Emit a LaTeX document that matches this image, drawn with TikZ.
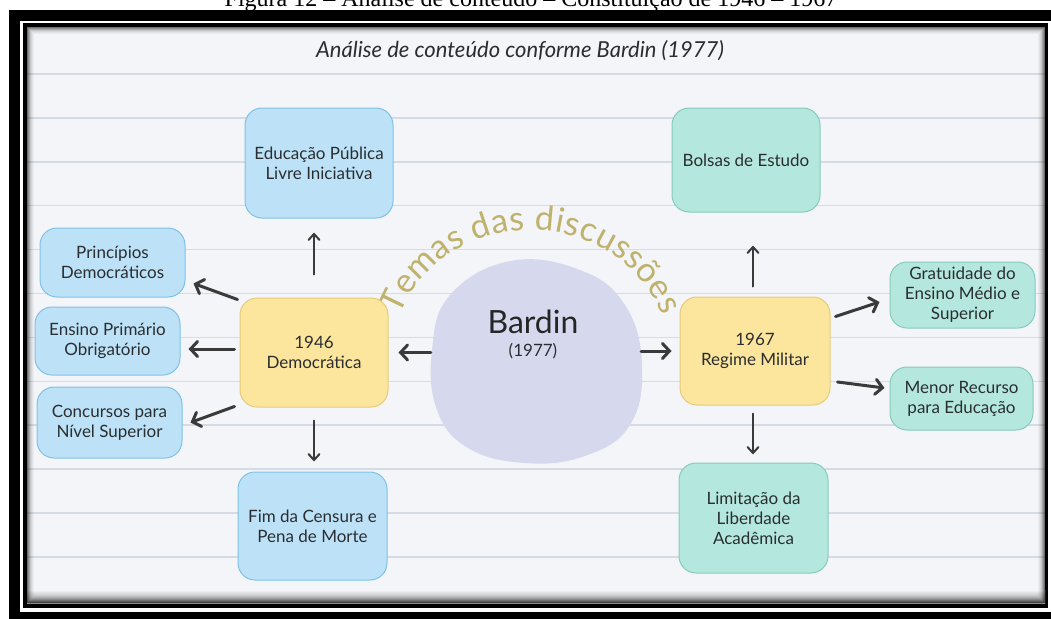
\documentclass[tikz,border=0pt]{standalone}
\usepackage{fontspec}
\setmainfont{Lato}
\newfontfamily\capfont{Liberation Serif}
\usetikzlibrary{arrows.meta,decorations.text}
\definecolor{paperc}{HTML}{F3F5F8}
\definecolor{rulec}{HTML}{D4DBE4}
\definecolor{bluef}{HTML}{BDE2F7}
\definecolor{blued}{HTML}{7FC2E6}
\definecolor{yelf}{HTML}{FCE59C}
\definecolor{yeld}{HTML}{E6CC7A}
\definecolor{mintf}{HTML}{B4E7DD}
\definecolor{mintd}{HTML}{86CBBD}
\definecolor{blobc}{HTML}{D6D9EE}
\definecolor{goldc}{HTML}{BFB26C}
\definecolor{arrowc}{HTML}{3A3A3A}
\definecolor{textc}{HTML}{2A2E31}
\newcommand\arcfnt{\fontsize{34}{34}\selectfont\color{goldc}}
\begin{document}
\begin{tikzpicture}[x=1pt,y=-1pt,
  box/.style={rounded corners=17pt, line width=1pt, align=center, text=textc,
    font=\fontsize{17}{20}\selectfont, inner sep=0pt},
  bluebox/.style={box, fill=bluef, draw=blued},
  yelbox/.style={box, fill=yelf, draw=yeld},
  mintbox/.style={box, fill=mintf, draw=mintd},
  arr/.style={draw=arrowc, line width=3pt, line cap=round,
    -{Straight Barb[length=7pt,width=15pt,line cap=round]}},
  varr/.style={draw=arrowc, line width=2pt, line cap=round,
    -{Straight Barb[length=6pt,width=11pt,line cap=round]}},
  rule/.style={draw=rulec, line width=1.5pt}
]
\useasboundingbox (0,0) rectangle (1051,618);
\fill[white] (0,0) rectangle (1051,618);
\node[font=\capfont\fontsize{24}{26}\selectfont, anchor=base, inner sep=0pt] (caption) at (531,7)
  {Figura 12 – Análise de conteúdo – Constituição de 1946 – 1967};
% frame
\fill[black] (9,10) rectangle (1070,640);
\fill[white] (20,21) rectangle (1051,612);
\fill[black] (23,23) rectangle (1048,608);
\fill[paperc] (27,27) rectangle (1045,603);
% ruled lines
\foreach \k in {0,...,11}
  \draw[rule] (27,{74+43.9*\k}) -- (1045,{74+43.9*\k});
% inner shadow
\shade[top color=paperc, bottom color=black!45] (27,590) rectangle (1045,603);
\foreach \i/\o in {0/0.55,1/0.42,2/0.3,3/0.2,4/0.12,5/0.07,6/0.04}
  \draw[black, opacity=\o, line width=1pt] (27.5+\i,27.5+\i) rectangle (1044.5-\i,602.5-\i);
% title
\node[font=\itshape\fontsize{22}{24}\selectfont, text=textc, anchor=base] (title) at (520,58)
  {Análise de conteúdo conforme Bardin (1977)};
% blob
\fill[blobc] plot[smooth cycle, tension=0.7] coordinates
  {(510,261) (580,270) (625,305) (642,365) (630,425) (585,456) (525,463) (468,448) (437,410) (432,350) (450,295)};
\node[minimum width=210pt, minimum height=200pt, inner sep=0pt] (bardin) at (536,362) {};
\node[font=\fontsize{32}{32}\selectfont, text=black!85] (bardintxt) at (533,322) {Bardin};
\node[font=\fontsize{17}{20}\selectfont, text=textc] (bardinyr) at (533,351) {(1977)};
% arc text
\begin{scope}[shift={(531,360)}, y=1pt]
\path[decorate, decoration={text along path,
   text={|\arcfnt|Temas das discussões}, text align={fit to path}}]
   (160:140pt and 130pt) arc[start angle=160, end angle=20, x radius=140pt, y radius=130pt];
\end{scope}
% boxes
\node[bluebox, minimum width=148pt, minimum height=110pt] (edu) at (319,163) {Educação Pública\\Livre Iniciativa};
\node[bluebox, minimum width=145pt, minimum height=69pt] (princ) at (112.5,262.5) {Princípios\\Democráticos};
\node[bluebox, minimum width=145pt, minimum height=68pt] (ensino) at (107.5,341) {Ensino Primário\\Obrigatório};
\node[bluebox, minimum width=145pt, minimum height=71pt] (conc) at (109.5,422.5) {Concursos para\\Nível Superior};
\node[yelbox, minimum width=148pt, minimum height=109pt] (d46) at (314,352.5) {1946\\Democrática};
\node[bluebox, minimum width=149pt, minimum height=108pt] (fim) at (312.5,526) {Fim da Censura e\\Pena de Morte};
\node[mintbox, minimum width=148pt, minimum height=104pt] (bolsas) at (746,160) {Bolsas de Estudo};
\node[yelbox, minimum width=150pt, minimum height=108pt] (r67) at (755,351) {1967\\Regime Militar};
\node[mintbox, minimum width=145pt, minimum height=66pt] (grat) at (962.5,295) {Gratuidade do\\Ensino Médio e\\Superior};
\node[mintbox, minimum width=143pt, minimum height=63pt] (menor) at (961.5,398.5) {Menor Recurso\\para Educação};
\node[mintbox, minimum width=149pt, minimum height=110pt] (lim) at (753.5,518) {Limitação da\\Liberdade\\Acadêmica};
% arrows
\draw[arr] (bardin.west |- d46.east) -- ([xshift=10pt]d46.east);
\draw[arr] (bardin.east |- r67.west) -- ([xshift=-8pt]r67.west);
\draw[arr] ([shift={(-2,2)}]d46.north west) -- ([shift={(8,-14)}]princ.south east);
\draw[arr] ([shift={(-5,-3.5)}]d46.west) -- ([shift={(8,8)}]ensino.east);
\draw[arr] ([shift={(-5,-1)}]d46.south west) -- ([shift={(8,0)}]conc.east);
\draw[varr, shorten <=23pt, shorten >=14pt] (d46.north) -- (d46.north |- edu.south);
\draw[varr, shorten <=13pt, shorten >=10pt] (d46.south) -- (d46.south |- fim.north);
\draw[varr, shorten <=10pt, shorten >=33pt] ([xshift=-2pt]r67.north) -- ([xshift=-2pt]r67.north |- bolsas.south);
\draw[varr, shorten <=8pt, shorten >=8pt] ([xshift=-2pt]r67.south) -- ([xshift=-2pt]r67.south |- lim.north);
\draw[arr] ([shift={(5,20)}]r67.north east) -- ([shift={(-10,7)}]grat.west);
\draw[arr] ([shift={(7,31)}]r67.east) -- ([shift={(-5,-10.5)}]menor.west);
\end{tikzpicture}
\end{document}
